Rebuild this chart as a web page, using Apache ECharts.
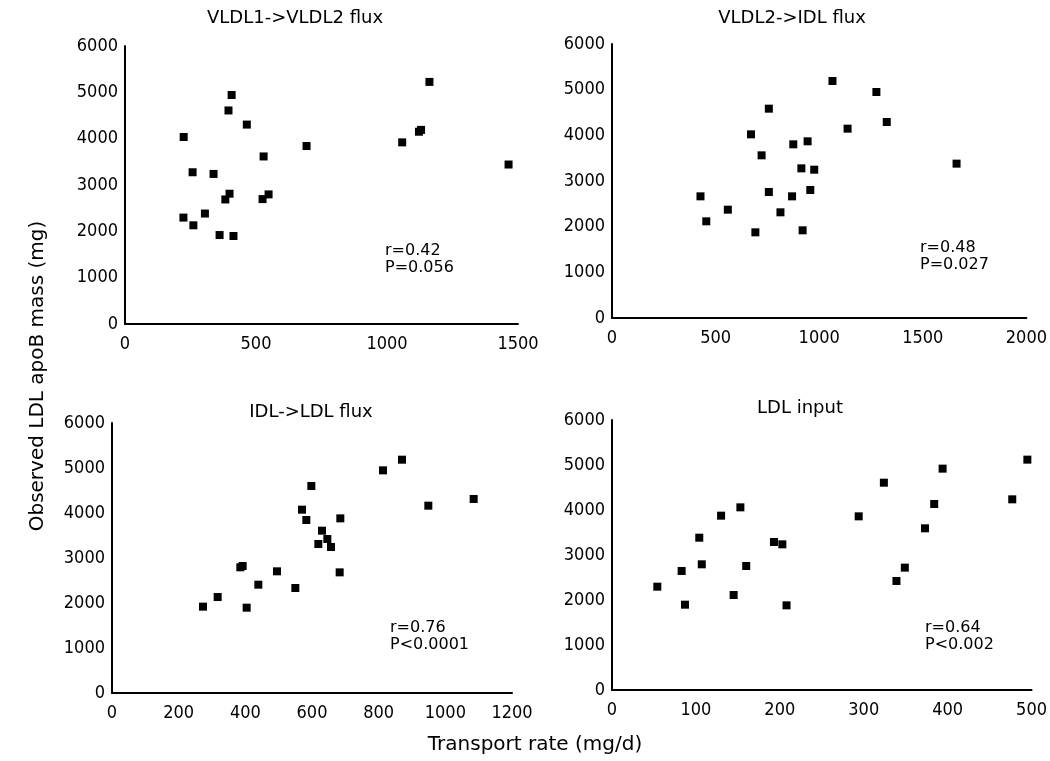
<!DOCTYPE html>
<html>
<head>
<meta charset="utf-8">
<script src="https://cdn.jsdelivr.net/npm/echarts@6/dist/echarts.min.js"></script>
<style>html,body{margin:0;padding:0;background:#fff}#c{width:1050px;height:761px}</style>
</head>
<body>
<div id="c"></div>
<script>
// Panel titles and stats
const panelTitles = ['VLDL1->VLDL2 flux', 'VLDL2->IDL flux', 'IDL->LDL flux', 'LDL input'];
const panelStats = ['r=0.42\nP=0.056', 'r=0.48\nP=0.027', 'r=0.76\nP<0.0001', 'r=0.64\nP<0.002'];
const xMax = [1500, 2000, 1200, 500];
const xInterval = [500, 500, 200, 100];
const yMax = 6000;
const yInterval = 1000;
const yTitle = 'Observed LDL apoB mass (mg)';
const xTitle = 'Transport rate (mg/d)';

// VLDL1->VLDL2 flux: [transport rate, LDL apoB mass]
const vldl1Vldl2 = [
  [224, 4036], [407, 4942], [395, 4609], [465, 4304], [258, 3275], [338, 3239],
  [529, 3616], [693, 3841], [1058, 3920], [1122, 4150], [1130, 4190], [1162, 5225],
  [1464, 3442], [399, 2812], [383, 2688], [548, 2797], [525, 2696], [223, 2297],
  [261, 2130], [305, 2384], [361, 1920], [414, 1899]
];
// VLDL2->IDL flux
const vldl2Idl = [
  [427, 2664], [455, 2117], [559, 2372], [692, 1876], [671, 4022], [722, 3562],
  [757, 4584], [757, 2759], [813, 2314], [869, 2664], [875, 3803], [914, 3277],
  [944, 3869], [957, 2803], [976, 3248], [920, 1920], [1064, 5190], [1137, 4146],
  [1276, 4949], [1326, 4292], [1663, 3380]
];
// IDL->LDL flux
const idlLdl = [
  [273, 1919], [317, 2133], [404, 1896], [385, 2793], [392, 2822], [439, 2407],
  [495, 2704], [550, 2333], [570, 4074], [583, 3844], [598, 4600], [630, 3607],
  [619, 3311], [646, 3422], [657, 3244], [685, 3881], [683, 2681], [813, 4948],
  [870, 5185], [949, 4163], [1085, 4311]
];
// LDL input
const ldlInput = [
  [54, 2296], [83, 2644], [87, 1896], [104, 3385], [107, 2793], [130, 3874],
  [145, 2111], [153, 4059], [160, 2756], [193, 3289], [203, 3237], [208, 1881],
  [294, 3859], [324, 4607], [339, 2422], [349, 2719], [373, 3593], [384, 4133],
  [394, 4919], [477, 4237], [495, 5119]
];
const panelData = [vldl1Vldl2, vldl2Idl, idlLdl, ldlInput];

const grids = [
  {left: 125, right: 532, top: 46, bottom: 437},
  {left: 612, right: 20, top: 44, bottom: 443},
  {left: 112, right: 538, top: 423, bottom: 68},
  {left: 612, right: 17, top: 420, bottom: 71}
];
const titlePos = [[295, 18], [792, 18], [311, 412], [800, 408]];
const statPos = [[385, 242], [920, 239], [390, 619], [925, 619]];

const tickFont = '"DejaVu Sans Condensed", "DejaVu Sans", sans-serif';
const textFont = '"DejaVu Sans", sans-serif';

const chart = echarts.init(document.getElementById('c'));
const option = {
  backgroundColor: '#fff',
  animation: false,
  grid: grids,
  xAxis: grids.map((g, i) => ({
    type: 'value', gridIndex: i, min: 0, max: xMax[i], interval: xInterval[i],
    axisLine: {show: true, onZero: false, lineStyle: {color: '#000', width: 2}},
    axisTick: {show: false},
    splitLine: {show: false},
    axisLabel: {color: '#000', fontSize: 18, fontFamily: tickFont, margin: 11,
                formatter: v => String(v)}
  })),
  yAxis: grids.map((g, i) => ({
    type: 'value', gridIndex: i, min: 0, max: yMax, interval: yInterval,
    axisLine: {show: true, onZero: false, lineStyle: {color: '#000', width: 2}},
    axisTick: {show: false},
    splitLine: {show: false},
    axisLabel: {color: '#000', fontSize: 18, fontFamily: tickFont, margin: 7,
                formatter: v => String(v)}
  })),
  series: panelData.map((d, i) => ({
    type: 'scatter', xAxisIndex: i, yAxisIndex: i, data: d,
    symbol: 'rect', symbolSize: 8,
    itemStyle: {color: '#000', opacity: 1}
  })),
  graphic: [].concat(
    panelTitles.map((t, i) => ({
      type: 'text', x: titlePos[i][0], y: titlePos[i][1],
      style: {text: t, font: '18px ' + textFont, fill: '#000',
              textAlign: 'center', textVerticalAlign: 'middle'}
    })),
    panelStats.map((t, i) => ({
      type: 'text', x: statPos[i][0], y: statPos[i][1],
      style: {text: t, font: '16px ' + textFont, fill: '#000', lineHeight: 17}
    })),
    [{
      type: 'text', x: 38, y: 376, rotation: Math.PI / 2,
      style: {text: yTitle, font: '20px ' + textFont, fill: '#000',
               textAlign: 'center', textVerticalAlign: 'middle'}
    }, {
      type: 'text', x: 535, y: 745,
      style: {text: xTitle, font: '20px ' + textFont, fill: '#000',
               textAlign: 'center', textVerticalAlign: 'middle'}
    }]
  )
};
chart.setOption(option);
</script>
</body>
</html>
